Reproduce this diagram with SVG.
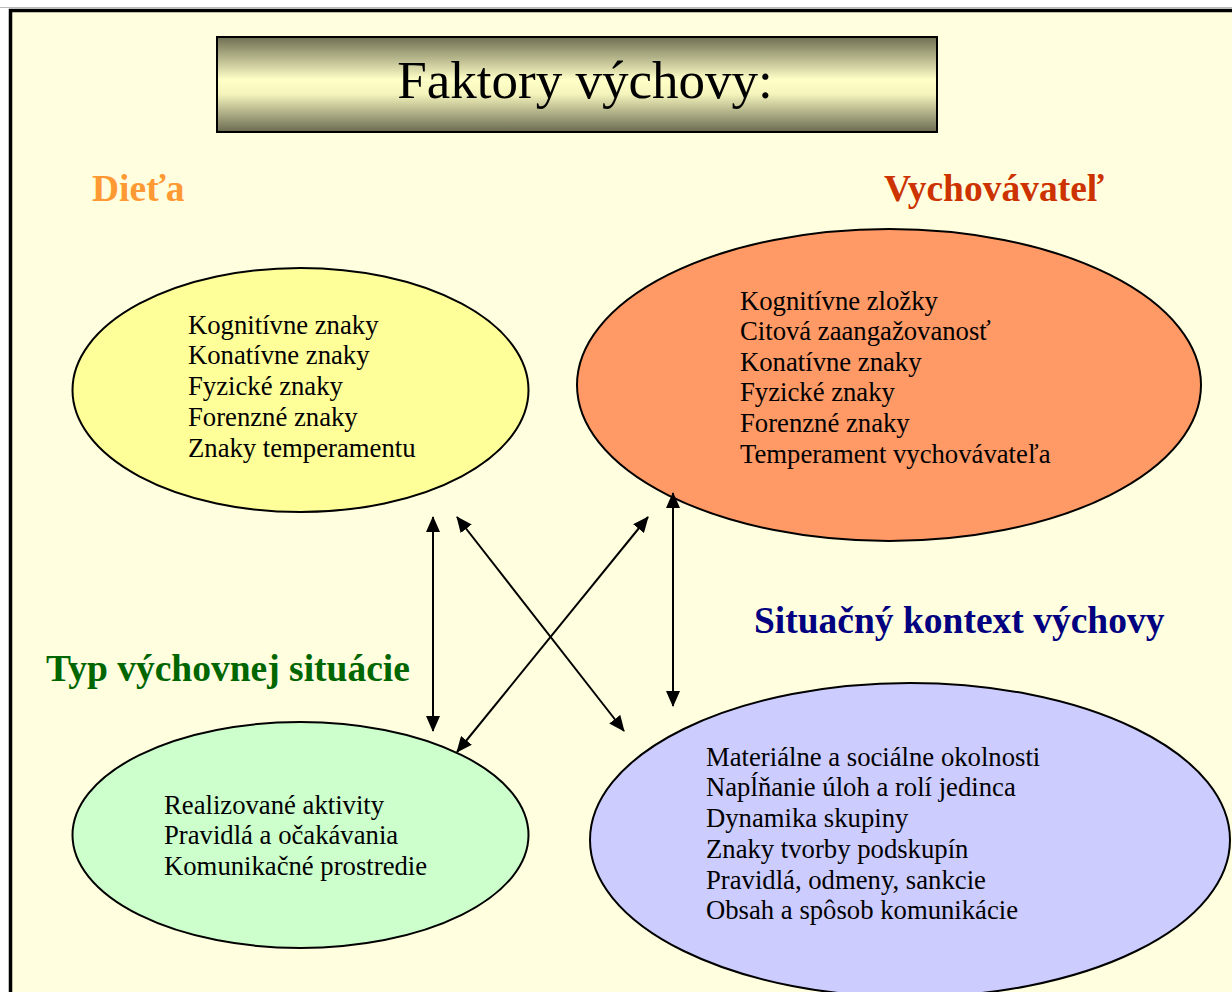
<svg xmlns="http://www.w3.org/2000/svg" width="1232" height="992" viewBox="0 0 1232 992">
  <defs>
    <linearGradient id="titleGrad" x1="0" y1="0" x2="0" y2="1">
      <stop offset="0" stop-color="#6f6f52"/>
      <stop offset="0.45" stop-color="#ffffc8"/>
      <stop offset="0.6" stop-color="#f4f4bc"/>
      <stop offset="1" stop-color="#6a6a52"/>
    </linearGradient>
    <marker id="ah" markerUnits="userSpaceOnUse" viewBox="0 0 16 14" refX="15" refY="7" markerWidth="16" markerHeight="14" orient="auto-start-reverse">
      <path d="M0,0 L16,7 L0,14 z" fill="#000"/>
    </marker>
  </defs>
  <style>
    .body { font-family: "Liberation Serif", "Times New Roman", serif; font-size: 26.7px; fill: #000; }
    .head { font-family: "Liberation Serif", "Times New Roman", serif; font-size: 37.5px; font-weight: bold; }
    .ell { stroke: #000; stroke-width: 2; }
    .conn { stroke: #000; stroke-width: 2; fill: none; marker-start: url(#ah); marker-end: url(#ah); }
  </style>
  <rect x="0" y="0" width="1232" height="992" fill="#ffffff"/>
  <line x1="0" y1="7.5" x2="1232" y2="7.5" stroke="#bbbbbb" stroke-width="1"/>
  <rect x="10.5" y="10.5" width="1240" height="1000" fill="#ffffdf" stroke="#000" stroke-width="3.5"/>

  <g id="title">
    <rect x="217" y="37" width="720" height="95" fill="url(#titleGrad)" stroke="#000" stroke-width="2"/>
    <text x="585" y="98" text-anchor="middle" font-family="'Liberation Serif', 'Times New Roman', serif" font-size="53" fill="#000">Faktory výchovy:</text>
  </g>

  <g id="label-dieta"><text class="head" x="92" y="201" fill="#ff9933">Dieťa</text></g>
  <g id="label-vychovavatel"><text class="head" x="884" y="201" fill="#cc3300">Vychovávateľ</text></g>
  <g id="label-situacny"><text class="head" x="754" y="633" fill="#000080">Situačný kontext výchovy</text></g>
  <g id="label-typ"><text class="head" x="46" y="681" fill="#006600">Typ výchovnej situácie</text></g>

  <g id="node-dieta">
    <ellipse class="ell" cx="300.5" cy="390" rx="228" ry="122" fill="#ffff99"/>
    <text class="body" x="188" y="334">Kognitívne znaky</text>
    <text class="body" x="188" y="364">Konatívne znaky</text>
    <text class="body" x="188" y="395">Fyzické znaky</text>
    <text class="body" x="188" y="426">Forenzné znaky</text>
    <text class="body" x="188" y="457">Znaky temperamentu</text>
  </g>

  <g id="node-vychovavatel">
    <ellipse class="ell" cx="889" cy="385" rx="312" ry="156" fill="#ff9966"/>
    <text class="body" x="740" y="310">Kognitívne zložky</text>
    <text class="body" x="740" y="340">Citová zaangažovanosť</text>
    <text class="body" x="740" y="371">Konatívne znaky</text>
    <text class="body" x="740" y="401">Fyzické znaky</text>
    <text class="body" x="740" y="432">Forenzné znaky</text>
    <text class="body" x="740" y="463">Temperament vychovávateľa</text>
  </g>

  <g id="node-typ">
    <ellipse class="ell" cx="300.5" cy="835" rx="228" ry="113" fill="#ccffcc"/>
    <text class="body" x="164" y="814">Realizované aktivity</text>
    <text class="body" x="164" y="844">Pravidlá a očakávania</text>
    <text class="body" x="164" y="875">Komunikačné prostredie</text>
  </g>

  <g id="node-situacny">
    <ellipse class="ell" cx="910" cy="840" rx="320" ry="157" fill="#ccccff"/>
    <text class="body" x="706" y="766">Materiálne a sociálne okolnosti</text>
    <text class="body" x="706" y="796">Napĺňanie úloh a rolí jedinca</text>
    <text class="body" x="706" y="827">Dynamika skupiny</text>
    <text class="body" x="706" y="858">Znaky tvorby podskupín</text>
    <text class="body" x="706" y="889">Pravidlá, odmeny, sankcie</text>
    <text class="body" x="706" y="919">Obsah a spôsob komunikácie</text>
  </g>

  <g id="connectors">
    <line class="conn" x1="433" y1="517" x2="433" y2="731"/>
    <line class="conn" x1="457" y1="517" x2="624" y2="731"/>
    <line class="conn" x1="648" y1="517" x2="457" y2="752"/>
    <line class="conn" x1="673" y1="493" x2="673" y2="706"/>
  </g>
</svg>
